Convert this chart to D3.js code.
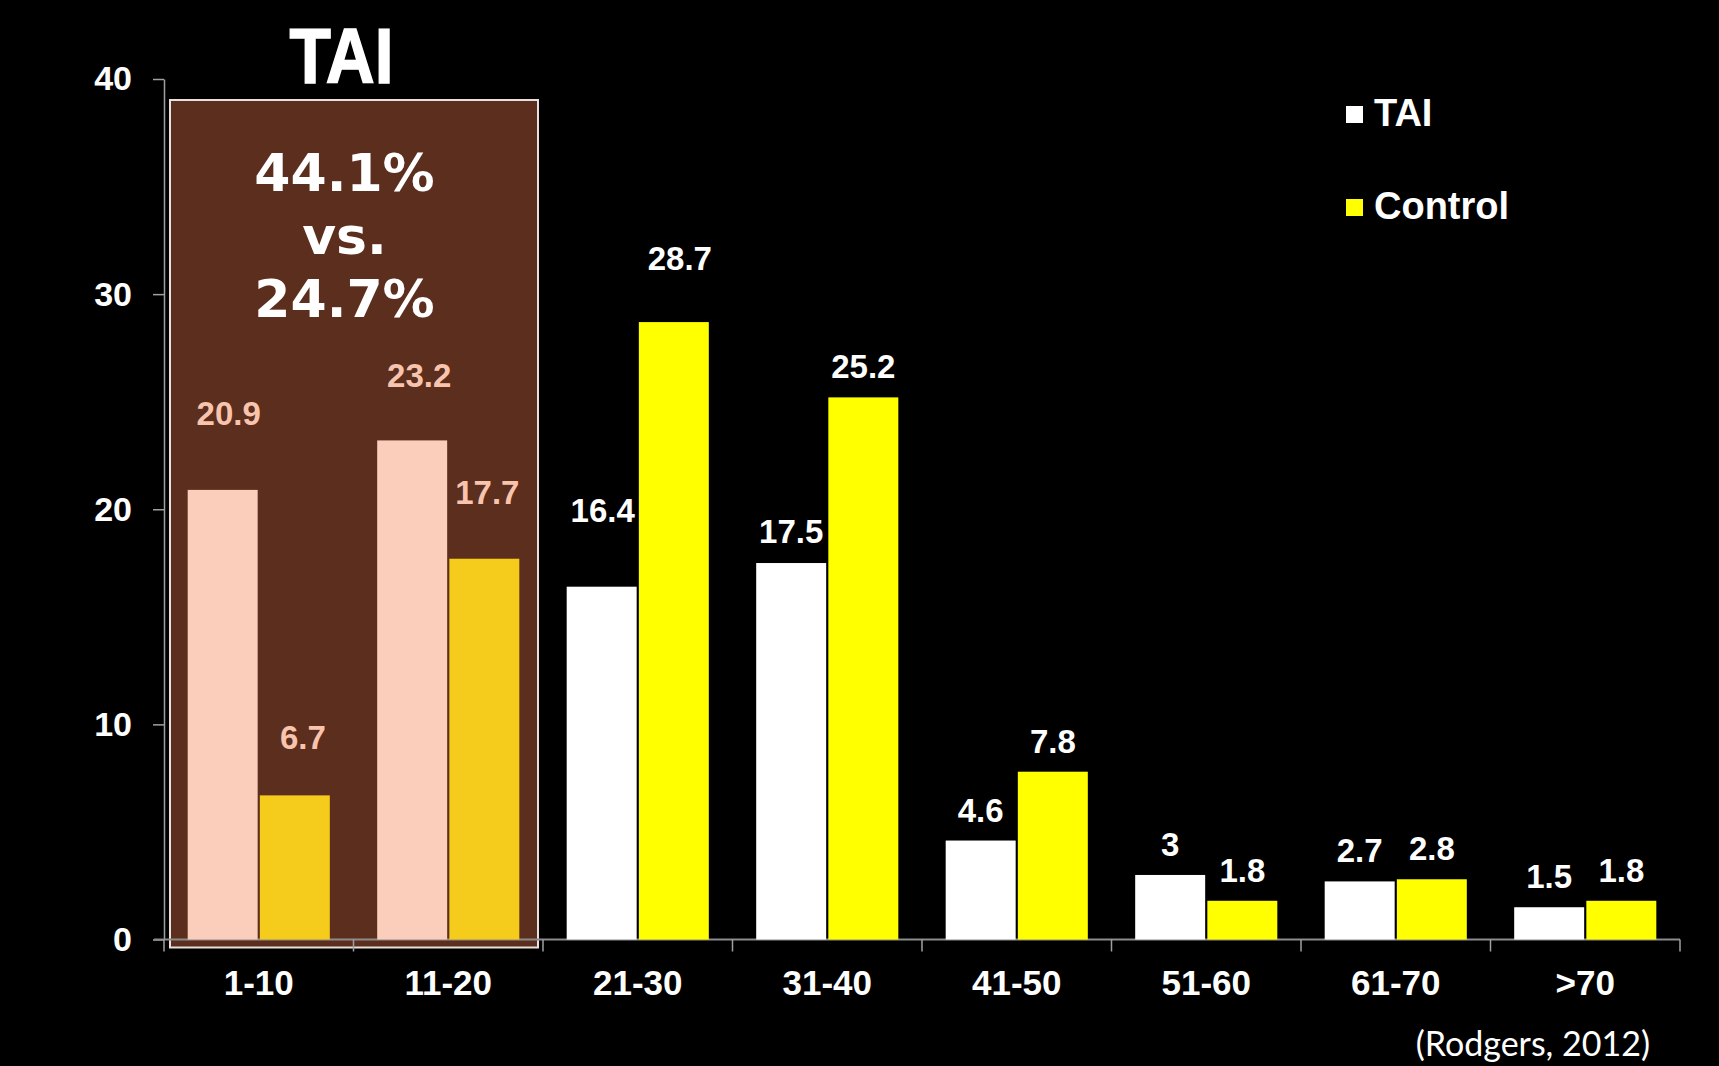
<!DOCTYPE html>
<html>
<head>
<meta charset="utf-8">
<script src="https://cdn.jsdelivr.net/npm/d3@7"></script>
<style>
  body { margin: 0; background: #000; }
  svg { display: block; }
  text { font-family: "Liberation Sans", Arial, sans-serif; font-weight: bold; }
</style>
</head>
<body>
<div id="chart"></div>
<script>
// data
const categories = ["1-10", "11-20", "21-30", "31-40", "41-50", "51-60", "61-70", ">70"];
const taiValues = [20.9, 23.2, 16.4, 17.5, 4.6, 3, 2.7, 1.5];
const controlValues = [6.7, 17.7, 28.7, 25.2, 7.8, 1.8, 2.8, 1.8];
const seriesNames = ["TAI", "Control"];
const yTicks = [0, 10, 20, 30, 40];
const highlighted = ["1-10", "11-20"];
const summaryLines = ["44.1%", "vs.", "24.7%"];
const titleText = "TAI";
const sourceText = "(Rodgers, 2012)";

// label nudges (px) where the slide's labels were moved by hand
const taiNudge = [[6, -46], [7, -34], [1, -46], [0, -1], [0, 0], [0, 0], [0, 0], [0, 0]];
const ctrlNudge = [[8, -27], [3, -36], [6, -33], [0, 0], [0, 0], [0, 0], [0, 0], [0, 0]];

const W = 1719, H = 1066;
const margin = { top: 79, right: 39, bottom: 126.5, left: 164 };
const width = W - margin.left - margin.right;
const height = H - margin.top - margin.bottom;

const colors = { TAI: "#ffffff", Control: "#ffff00" };
const hiColors = { TAI: "#fbcdbb", Control: "#f5cc1c" };
const hiLabel = "#f8c4ae";

const svg = d3.select("#chart").append("svg")
    .attr("width", W)
    .attr("height", H)
    .style("background", "#000");

const g = svg.append("g")
    .attr("transform", `translate(${margin.left},${margin.top})`);

const x0 = d3.scaleBand()
    .domain(categories)
    .range([0, width])
    .paddingInner(0.25)
    .paddingOuter(0.125);

const x1 = d3.scaleBand()
    .domain(seriesNames)
    .range([0, x0.bandwidth()])
    .paddingInner(0.03);

const y = d3.scaleLinear()
    .domain([0, 40])
    .range([height, 0]);

// highlight box behind the first two groups
const step = x0.step();
g.append("rect")
    .attr("x", 6)
    .attr("y", y(40) + 21)
    .attr("width", step * highlighted.length - 11)
    .attr("height", y(0) - y(40) - 13)
    .attr("fill", "#5c2e1e")
    .attr("stroke", "#e8e0dc")
    .attr("stroke-width", 2);

// y axis
const yAxis = g.append("g")
    .call(d3.axisLeft(y).tickValues(yTicks).tickSize(11).tickSizeOuter(0).tickPadding(21));
yAxis.select(".domain").attr("stroke", "#a0a0a0").attr("stroke-width", 1.5);
yAxis.selectAll(".tick line").attr("stroke", "#a0a0a0").attr("stroke-width", 1.5);
yAxis.selectAll(".tick text")
    .attr("fill", "#fff")
    .style("font-size", "34px");

// x axis baseline and boundary ticks
g.append("line")
    .attr("x1", -10).attr("x2", width)
    .attr("y1", y(0)).attr("y2", y(0))
    .attr("stroke", "#8c8c8c").attr("stroke-width", 2);

g.selectAll(".bound")
    .data(d3.range(categories.length + 1))
    .join("line")
    .attr("class", "bound")
    .attr("x1", i => i * step).attr("x2", i => i * step)
    .attr("y1", y(0)).attr("y2", y(0) + 12)
    .attr("stroke", "#a0a0a0").attr("stroke-width", 1.5);

const xAxis = g.append("g")
    .attr("transform", `translate(0,${height})`)
    .call(d3.axisBottom(x0).tickSize(0).tickPadding(31));
xAxis.select(".domain").remove();
xAxis.selectAll(".tick text")
    .attr("fill", "#fff")
    .style("font-size", "35px");

// bars
const rows = categories.map((c, i) => ({
    cat: c,
    vals: [
        { key: "TAI", value: taiValues[i], nudge: taiNudge[i] },
        { key: "Control", value: controlValues[i], nudge: ctrlNudge[i] }
    ]
}));

const groups = g.selectAll(".grp")
    .data(rows)
    .join("g")
    .attr("class", "grp")
    .attr("transform", d => `translate(${x0(d.cat)},0)`);

groups.selectAll("rect")
    .data(d => d.vals.map(v => ({ ...v, hi: highlighted.includes(d.cat) })))
    .join("rect")
    .attr("x", d => x1(d.key))
    .attr("y", d => y(d.value))
    .attr("width", x1.bandwidth())
    .attr("height", d => y(0) - y(d.value))
    .attr("fill", d => d.hi ? hiColors[d.key] : colors[d.key]);

groups.selectAll(".val")
    .data(d => d.vals.map(v => ({ ...v, hi: highlighted.includes(d.cat) })))
    .join("text")
    .attr("class", "val")
    .attr("x", d => x1(d.key) + x1.bandwidth() / 2 + d.nudge[0])
    .attr("y", d => y(d.value) - 19 + d.nudge[1])
    .attr("text-anchor", "middle")
    .attr("fill", d => d.hi ? hiLabel : "#fff")
    .style("font-size", "33px")
    .text(d => d.value);

// title above the box
g.append("text")
    .attr("x", step - 12)
    .attr("y", 4)
    .attr("text-anchor", "middle")
    .attr("fill", "#fff")
    .attr("stroke", "#fff")
    .attr("stroke-width", 1.5)
    .attr("textLength", 104)
    .attr("lengthAdjust", "spacingAndGlyphs")
    .style("font-size", "78px")
    .text(titleText);

// summary text in the box
g.append("g").selectAll("text")
    .data(summaryLines)
    .join("text")
    .attr("x", step - 9)
    .attr("y", (d, i) => 112 + i * 63)
    .attr("text-anchor", "middle")
    .attr("fill", "#fff")
    .style("font-family", "'DejaVu Sans', Verdana, sans-serif")
    .style("font-size", "52px")
    .text(d => d);

// legend
const legend = svg.append("g")
    .attr("transform", "translate(1346,106)");
legend.selectAll("rect")
    .data(seriesNames)
    .join("rect")
    .attr("x", 0)
    .attr("y", (d, i) => i * 93)
    .attr("width", 17)
    .attr("height", 17)
    .attr("fill", d => colors[d]);
legend.selectAll("text")
    .data(seriesNames)
    .join("text")
    .attr("x", 28)
    .attr("y", (d, i) => 20 + i * 93)
    .attr("fill", "#fff")
    .style("font-size", "38px")
    .text(d => d);

// source
svg.append("text")
    .attr("x", 1650)
    .attr("y", 1056)
    .attr("text-anchor", "end")
    .attr("fill", "#fff")
    .style("font-family", "Lato, 'Open Sans', sans-serif")
    .style("font-weight", "normal")
    .style("font-size", "34px")
    .text(sourceText);
</script>
</body>
</html>
